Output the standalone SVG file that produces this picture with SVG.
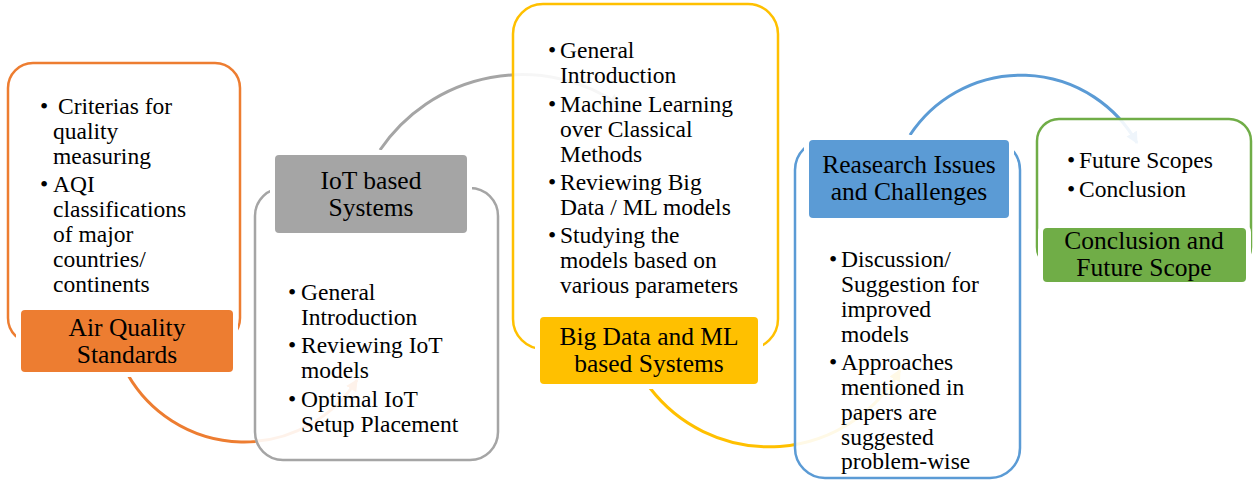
<svg xmlns="http://www.w3.org/2000/svg" width="1259" height="484" viewBox="0 0 1259 484">
<style>
text{font-family:'Liberation Serif','DejaVu Serif',serif;fill:#000}
.b{font-size:23.5px}
.t{font-size:25.5px;text-anchor:middle}
.dot{font-size:23.5px;text-anchor:middle}
.frame{fill:#fff;fill-opacity:0.9;stroke-width:2.5}
.lab{stroke:#fff;stroke-width:10;paint-order:stroke}
.arc{fill:none;stroke-width:3}
</style>
<defs>
<marker id="mO" viewBox="0 0 10 10" refX="9" refY="5" markerWidth="4" markerHeight="4" orient="auto" markerUnits="strokeWidth"><path d="M0,0 L10,5 L0,10 z" fill="#ED7D31"/></marker>
<marker id="mG" viewBox="0 0 10 10" refX="9" refY="5" markerWidth="4" markerHeight="4" orient="auto" markerUnits="strokeWidth"><path d="M0,0 L10,5 L0,10 z" fill="#A5A5A5"/></marker>
<marker id="mY" viewBox="0 0 10 10" refX="9" refY="5" markerWidth="4" markerHeight="4" orient="auto" markerUnits="strokeWidth"><path d="M0,0 L10,5 L0,10 z" fill="#FFC000"/></marker>
<marker id="mB" viewBox="0 0 10 10" refX="9" refY="5" markerWidth="4" markerHeight="4" orient="auto" markerUnits="strokeWidth"><path d="M0,0 L10,5 L0,10 z" fill="#5B9BD5"/></marker>
</defs>
<rect width="1259" height="484" fill="#fff"/>
<g id="connectors">
<path class="arc" stroke="#ED7D31" marker-end="url(#mO)" d="M128,375 A134,134 0 0,0 357,380"/>
<path class="arc" stroke="#A5A5A5" marker-end="url(#mG)" d="M380,150 A172,172 0 0,1 620,105"/>
<path class="arc" stroke="#FFC000" marker-end="url(#mY)" d="M650,388 A150,150 0 0,0 900,370"/>
<path class="arc" stroke="#5B9BD5" marker-end="url(#mB)" d="M910,135 A133,133 0 0,1 1137,143"/>
</g>
<g id="node-air-quality">
<rect class="frame" stroke="#ED7D31" x="8" y="63" width="232" height="280" rx="25"/>
<rect class="lab" fill="#ED7D31" x="21" y="310" width="212" height="62" rx="4"/>
<text class="t" x="127" y="336" font-size="24.5">Air Quality</text>
<text class="t" x="127" y="363" font-size="24.5">Standards</text>
<text class="dot" x="44" y="114">•</text>
<text class="b" x="58" y="114">Criterias for</text>
<text class="b" x="53" y="139">quality</text>
<text class="b" x="53" y="164">measuring</text>
<text class="dot" x="44" y="192">•</text>
<text class="b" x="53" y="192">AQI</text>
<text class="b" x="53" y="217">classifications</text>
<text class="b" x="53" y="242">of major</text>
<text class="b" x="53" y="267">countries/</text>
<text class="b" x="53" y="292">continents</text>
</g>
<g id="node-iot">
<rect class="frame" stroke="#A5A5A5" x="255" y="188" width="243" height="272" rx="28"/>
<rect class="lab" fill="#A5A5A5" x="275" y="155" width="192" height="78" rx="4"/>
<text class="t" x="371" y="189">IoT based</text>
<text class="t" x="371" y="216">Systems</text>
<text class="dot" x="292" y="300">•</text>
<text class="b" x="301" y="300">General</text>
<text class="b" x="301" y="325">Introduction</text>
<text class="dot" x="292" y="353">•</text>
<text class="b" x="301" y="353">Reviewing IoT</text>
<text class="b" x="301" y="378">models</text>
<text class="dot" x="292" y="407">•</text>
<text class="b" x="301" y="407">Optimal IoT</text>
<text class="b" x="301" y="432">Setup Placement</text>
</g>
<g id="node-bigdata">
<rect class="frame" stroke="#FFC000" x="513" y="4" width="265" height="345" rx="30"/>
<rect class="lab" fill="#FFC000" x="540" y="317" width="218" height="67" rx="4"/>
<text class="t" x="649" y="345">Big Data and ML</text>
<text class="t" x="649" y="372">based Systems</text>
<text class="dot" x="552" y="58">•</text>
<text class="b" x="560" y="58">General</text>
<text class="b" x="560" y="83">Introduction</text>
<text class="dot" x="552" y="112">•</text>
<text class="b" x="560" y="112">Machine Learning</text>
<text class="b" x="560" y="137">over Classical</text>
<text class="b" x="560" y="162">Methods</text>
<text class="dot" x="552" y="190">•</text>
<text class="b" x="560" y="190">Reviewing Big</text>
<text class="b" x="560" y="215">Data / ML models</text>
<text class="dot" x="552" y="243">•</text>
<text class="b" x="560" y="243">Studying the</text>
<text class="b" x="560" y="268">models based on</text>
<text class="b" x="560" y="293">various parameters</text>
</g>
<g id="node-research">
<rect class="frame" stroke="#5B9BD5" x="795" y="140" width="225" height="338" rx="30"/>
<rect class="lab" fill="#5B9BD5" x="809" y="140" width="200" height="78" rx="4"/>
<text class="t" x="909" y="173" font-size="25">Reasearch Issues</text>
<text class="t" x="909" y="200" font-size="25">and Challenges</text>
<text class="dot" x="833" y="267">•</text>
<text class="b" x="841" y="267">Discussion/</text>
<text class="b" x="841" y="292">Suggestion for</text>
<text class="b" x="841" y="317">improved</text>
<text class="b" x="841" y="342">models</text>
<text class="dot" x="833" y="370">•</text>
<text class="b" x="841" y="370">Approaches</text>
<text class="b" x="841" y="395">mentioned in</text>
<text class="b" x="841" y="420">papers are</text>
<text class="b" x="841" y="445">suggested</text>
<text class="b" x="841" y="469">problem-wise</text>
</g>
<g id="node-conclusion">
<rect class="frame" stroke="#70AD47" x="1037" y="119" width="214" height="150" rx="22"/>
<rect class="lab" fill="#70AD47" x="1043" y="228" width="203" height="54" rx="4"/>
<text class="t" x="1144" y="249">Conclusion and</text>
<text class="t" x="1144" y="276">Future Scope</text>
<text class="dot" x="1071" y="168">•</text>
<text class="b" x="1079" y="168">Future Scopes</text>
<text class="dot" x="1071" y="197">•</text>
<text class="b" x="1079" y="197">Conclusion</text>
</g>
</svg>
